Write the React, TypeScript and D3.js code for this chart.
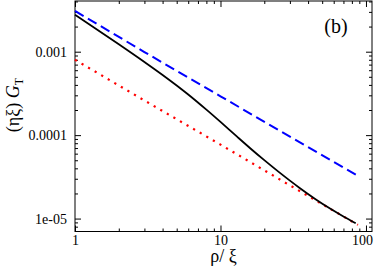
import React, { useEffect, useRef } from 'react';
import * as d3 from 'd3';

// full correlation (solid black)
const rho = [1, 2, 3, 4, 5, 6, 8, 10, 13, 16, 20, 25, 30, 35, 45, 57, 70, 85];
const gFull = [
  2.78e-3, 1.23e-3, 7.54e-4, 5.27e-4, 3.94e-4, 3.07e-4, 2.02e-4, 1.44e-4, 9.58e-5,
  6.97e-5, 5.01e-5, 3.65e-5, 2.85e-5, 2.33e-5, 1.71e-5, 1.31e-5, 1.06e-5, 8.8e-6,
];

// asymptotes (dashed blue, dotted red)
const rhoAsym = [1, 3, 10, 30, 88];
const gBlue = [3.08e-3, 9.9e-4, 2.92e-4, 9.6e-5, 3.25e-5];
const gRed = [8.0e-4, 2.6e-4, 7.7e-5, 2.5e-5, 8.4e-6];

const xTickValues = [1, 10, 100];
const xTickLabels = ['1', '10', '100'];
const yTickValues = [1e-5, 1e-4, 1e-3];
const yTickLabels = ['1e-05', '0.0001', '0.001'];

const App: React.FC = () => {
  const chartRef = useRef<SVGSVGElement>(null);

  useEffect(() => {
    if (!chartRef.current) return;
    const root = d3.select(chartRef.current);
    root.selectAll('*').remove();

    const margin = { top: 1, right: 2, bottom: 39.5, left: 75 };
    const width = 374 - margin.left - margin.right;
    const height = 271 - margin.top - margin.bottom;
    const font = 'Liberation Serif, serif';

    const svg = root
      .append('g')
      .attr('transform', 'translate(' + margin.left + ',' + margin.top + ')');

    const xDomain: [number, number] = [1, 110];
    const yDomain: [number, number] = [7e-6, 4.05e-3];
    const x = d3.scaleLog().domain(xDomain).range([0, width]);
    const y = d3.scaleLog().domain(yDomain).range([height, 0]);

    // minor tick positions, 2..9 in every decade
    const minors = (lo: number, hi: number) => {
      const out: number[] = [];
      for (let e = Math.floor(Math.log10(lo)); e <= Math.ceil(Math.log10(hi)); e++) {
        for (let m = 2; m <= 9; m++) {
          const v = m * Math.pow(10, e);
          if (v > lo && v < hi) out.push(v);
        }
      }
      return out;
    };
    const xMinor = minors(xDomain[0], xDomain[1]);
    const yMinor = minors(yDomain[0], yDomain[1]);

    const styleAxis = (g: any) => {
      g.attr('font-family', font).attr('font-size', 14);
      g.select('.domain').remove();
      g.selectAll('line').attr('stroke', '#000').attr('stroke-width', 1);
      g.selectAll('text').attr('fill', '#000');
    };

    // bottom
    svg.append('g')
      .attr('transform', 'translate(0,' + height + ')')
      .call(d3.axisBottom(x).tickValues(xMinor).tickSize(-3).tickFormat(() => ''))
      .call(styleAxis);
    svg.append('g')
      .attr('transform', 'translate(0,' + height + ')')
      .call(
        d3.axisBottom(x)
          .tickValues(xTickValues)
          .tickSize(-6)
          .tickPadding(3.5)
          .tickFormat((d, i) => xTickLabels[i])
      )
      .call(styleAxis)
      .call((g: any) => g.selectAll('text').filter((d: number) => d === 100).attr('dx', -4));

    // top
    svg.append('g')
      .call(d3.axisTop(x).tickValues(xMinor).tickSize(-3).tickFormat(() => ''))
      .call(styleAxis);
    svg.append('g')
      .call(d3.axisTop(x).tickValues(xTickValues).tickSize(-6).tickFormat(() => ''))
      .call(styleAxis);

    // left
    svg.append('g')
      .call(d3.axisLeft(y).tickValues(yMinor).tickSize(-3).tickFormat(() => ''))
      .call(styleAxis);
    svg.append('g')
      .call(
        d3.axisLeft(y)
          .tickValues(yTickValues)
          .tickSize(-6)
          .tickPadding(8)
          .tickFormat((d, i) => yTickLabels[i])
      )
      .call(styleAxis);

    // right
    svg.append('g')
      .attr('transform', 'translate(' + width + ',0)')
      .call(d3.axisRight(y).tickValues(yMinor).tickSize(-3).tickFormat(() => ''))
      .call(styleAxis);
    svg.append('g')
      .attr('transform', 'translate(' + width + ',0)')
      .call(d3.axisRight(y).tickValues(yTickValues).tickSize(-6).tickFormat(() => ''))
      .call(styleAxis);

    // frame
    svg.append('rect')
      .attr('width', width)
      .attr('height', height)
      .attr('fill', 'none')
      .attr('stroke', '#000')
      .attr('stroke-width', 1);

    const line = d3
      .line<[number, number]>()
      .x((d) => x(d[0]))
      .y((d) => y(d[1]));

    // Draw lines
    svg.append('path')
      .datum(rhoAsym.map((r, i) => [r, gBlue[i]] as [number, number]))
      .attr('fill', 'none')
      .attr('stroke', '#0000ff')
      .attr('stroke-width', 2)
      .attr('stroke-dasharray', '10,5')
      .attr('d', line);

    svg.append('path')
      .datum(rhoAsym.map((r, i) => [r, gRed[i]] as [number, number]))
      .attr('fill', 'none')
      .attr('stroke', '#ff0000')
      .attr('stroke-width', 2.2)
      .attr('stroke-dasharray', '2.2,5.4')
      .attr('d', line);

    svg.append('path')
      .datum(rho.map((r, i) => [r, gFull[i]] as [number, number]))
      .attr('fill', 'none')
      .attr('stroke', '#000')
      .attr('stroke-width', 1.8)
      .attr('d', line.curve(d3.curveMonotoneX));

    // labels
    root.append('text')
      .attr('x', margin.left + width / 2)
      .attr('y', 262)
      .attr('text-anchor', 'middle')
      .attr('font-family', font)
      .attr('font-size', 18)
      .text('ρ/ ξ');

    const yl = root.append('text')
      .attr('transform', 'translate(19,105) rotate(-90)')
      .attr('text-anchor', 'middle')
      .attr('font-family', font)
      .attr('font-size', 18);
    yl.append('tspan').text('(ηξ) ');
    yl.append('tspan').attr('font-style', 'italic').text('G');
    yl.append('tspan').attr('font-size', 12).attr('dy', 4).text('T');

    root.append('text')
      .attr('x', 336)
      .attr('y', 33)
      .attr('text-anchor', 'middle')
      .attr('font-family', font)
      .attr('font-size', 20)
      .text('(b)');
  }, []);

  return (
    <svg
      ref={chartRef}
      width={374}
      height={271}
      style={{ position: 'absolute', left: 0, top: 0, background: '#fff' }}
    ></svg>
  );
};

export default App;
